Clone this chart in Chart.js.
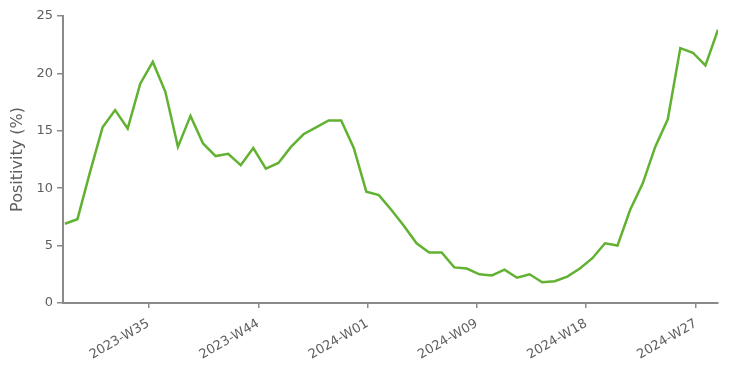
<!DOCTYPE html>
<html>
<head>
<meta charset="utf-8">
<script src="https://cdn.jsdelivr.net/npm/chart.js@4"></script>
<style>
  html, body { margin: 0; padding: 0; background: #fff; }
  #wrap { width: 730px; height: 369px; }
</style>
</head>
<body>
<div id="wrap"><canvas id="line-chart" width="730" height="369"></canvas></div>
<script>
// weekly positivity, 53 weeks, one value per week
var positivity = [6.9, 7.3, 11.4, 15.3, 16.8, 15.2, 19.1, 21.0, 18.4, 13.6,
                  16.3, 13.9, 12.8, 13.0, 12.0, 13.5, 11.7, 12.2, 13.6, 14.7,
                  15.3, 15.9, 15.9, 13.5, 9.7, 9.4, 8.1, 6.7, 5.2, 4.4,
                  4.4, 3.1, 3.0, 2.5, 2.4, 2.9, 2.2, 2.5, 1.8, 1.9,
                  2.3, 3.0, 3.9, 5.2, 5.0, 8.1, 10.4, 13.6, 16.0, 22.2,
                  21.8, 20.7, 23.8];

// x axis ticks: week sequence number where each label sits, and its text
var tickWeeks = [6.65, 15.4, 24.1, 32.8, 41.5, 50.25];
var tickLabels = ["2023-W35", "2023-W44", "2024-W01", "2024-W09", "2024-W18", "2024-W27"];

var yTicks = [0, 5, 10, 15, 20, 25];

var points = [];
for (var i = 0; i < positivity.length; i++) {
    points.push({x: i, y: positivity[i]});
}

var axisColor = "#8a8a8a";
var textColor = "#5f5f5f";
Chart.defaults.font.family = "'DejaVu Sans', Verdana, sans-serif";
Chart.defaults.font.size = 13;
Chart.defaults.color = textColor;

new Chart(document.getElementById("line-chart"), {
    type: 'line',
    data: {
        datasets: [{
            label: "Positivity (%)",
            data: points,
            borderColor: "#62b232",
            borderWidth: 2.5,
            pointRadius: 0,
            tension: 0,
            fill: false
        }]
    },
    options: {
        responsive: false,
        animation: false,
        layout: { padding: { top: 16, right: 12, left: 0, bottom: 0 } },
        plugins: {
            legend: { display: false },
            tooltip: { enabled: false }
        },
        scales: {
            x: {
                type: 'linear',
                min: -0.15,
                max: positivity.length - 1,
                afterBuildTicks: function (scale) {
                    scale.ticks = tickWeeks.map(function (w) { return {value: w}; });
                },
                afterFit: function (scale) { scale.height = 66; },
                ticks: {
                    autoSkip: false,
                    minRotation: 30,
                    maxRotation: 30,
                    padding: 8,
                    color: textColor,
                    callback: function (value, index) { return tickLabels[index]; }
                },
                grid: {
                    drawOnChartArea: false,
                    tickLength: 5,
                    color: axisColor,
                    lineWidth: 1.5
                },
                border: { color: axisColor, width: 2 }
            },
            y: {
                min: 0,
                max: 25,
                afterBuildTicks: function (scale) {
                    scale.ticks = yTicks.map(function (v) { return {value: v}; });
                },
                afterFit: function (scale) { scale.width = 63; },
                ticks: { padding: 4, color: textColor },
                title: {
                    display: true,
                    text: "Positivity (%)",
                    color: textColor,
                    font: { size: 16 },
                    padding: { top: 8, bottom: 0 }
                },
                grid: {
                    drawOnChartArea: false,
                    tickLength: 6,
                    color: axisColor,
                    lineWidth: 1.5
                },
                border: { color: axisColor, width: 2 }
            }
        }
    }
});
</script>
</body>
</html>
